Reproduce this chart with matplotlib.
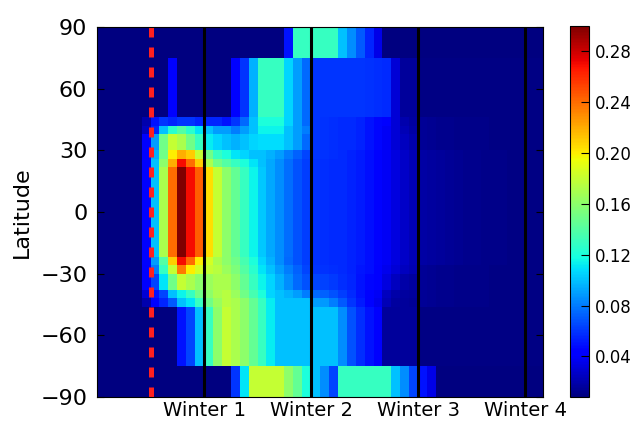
import numpy as np
import matplotlib
matplotlib.use("Agg")
import matplotlib.pyplot as plt

# grid: monthly columns, latitude bands (4 deg in the tropics, wide at high latitudes)
month_edges = np.arange(0, 51)
lat_edges = [-90, -75, -46, -42, -38, -34, -30, -26, -22, -18, -14, -10, -6, -2,
             2, 6, 10, 14, 18, 22, 26, 30, 34, 38, 42, 46, 75, 90]

winter_months = [12, 24, 36, 48]
winter_labels = ["Winter 1", "Winter 2", "Winter 3", "Winter 4"]
release_month = 6

tail_core = [0.018, 0.016, 0.015, 0.014, 0.013, 0.012, 0.012, 0.011, 0.011, 0.011, 0.010, 0.010, 0.010, 0.010]
tail_mid = [0.014, 0.013, 0.012, 0.012, 0.011, 0.011, 0.011, 0.011, 0.010, 0.010, 0.010, 0.010, 0.010, 0.010]

# one list per latitude band, south to north, 50 months each
band_90s_75s = [0.008] * 15 + [0.06, 0.11, 0.18, 0.18, 0.18, 0.18, 0.16, 0.145, 0.12, 0.10, 0.085, 0.065,
                               0.13, 0.13, 0.13, 0.13, 0.13, 0.13, 0.10, 0.085, 0.065, 0.05, 0.035] + [0.009] * 12
band_75s_46s = [0.008] * 9 + [0.05, 0.065, 0.10, 0.13, 0.16, 0.18, 0.17, 0.16, 0.145, 0.13, 0.112,
                              0.10, 0.10, 0.10, 0.10, 0.10, 0.10, 0.10, 0.085, 0.068, 0.058, 0.05, 0.04,
                              0.015, 0.015, 0.015, 0.015] + [0.01] * 14
band_46s_42s = [0.008] * 5 + [0.02, 0.045, 0.055, 0.07, 0.10, 0.11, 0.13, 0.15, 0.165, 0.175, 0.17, 0.16,
                              0.145, 0.13, 0.112, 0.10, 0.10, 0.10, 0.10, 0.09, 0.088, 0.08, 0.07, 0.06,
                              0.052, 0.045, 0.036, 0.022, 0.017, 0.015, 0.014] + tail_mid
band_42s_38s = [0.008] * 5 + [0.03, 0.05, 0.065, 0.10, 0.115, 0.13, 0.15, 0.16, 0.17, 0.175, 0.165, 0.15,
                              0.135, 0.12, 0.105, 0.10, 0.095, 0.09, 0.08, 0.075, 0.072, 0.068, 0.062, 0.057,
                              0.05, 0.045, 0.038, 0.025, 0.019, 0.016, 0.015] + tail_mid
band_38s_30s = [0.008] * 5 + [0.04, 0.065, 0.11, 0.15, 0.18, 0.17, 0.16, 0.165, 0.17, 0.17, 0.16, 0.145,
                              0.13, 0.115, 0.105, 0.095, 0.085, 0.075, 0.068, 0.065, 0.063, 0.061, 0.058, 0.055,
                              0.05, 0.046, 0.04, 0.032, 0.024, 0.019, 0.017] + tail_mid
band_30s_26s = [0.008] * 5 + [0.04, 0.08, 0.13, 0.18, 0.235, 0.20, 0.185, 0.18, 0.175, 0.165, 0.155, 0.14,
                              0.125, 0.11, 0.10, 0.09, 0.08, 0.072, 0.065, 0.06, 0.059, 0.058, 0.056, 0.054,
                              0.051, 0.048, 0.044, 0.036, 0.03, 0.025, 0.021] + tail_mid
band_26s_22s = [0.008] * 5 + [0.045, 0.09, 0.14, 0.21, 0.27, 0.24, 0.20, 0.185, 0.17, 0.16, 0.15, 0.135,
                              0.12, 0.105, 0.095, 0.085, 0.075, 0.068, 0.062, 0.059, 0.058, 0.057, 0.056, 0.054,
                              0.052, 0.049, 0.045, 0.038, 0.032, 0.027, 0.022] + tail_core
band_core = [0.008] * 5 + [0.045, 0.10, 0.17, 0.24, 0.30, 0.27, 0.245, 0.205, 0.18, 0.16, 0.145, 0.13,
                           0.115, 0.102, 0.093, 0.085, 0.076, 0.068, 0.062, 0.059, 0.058, 0.057, 0.056, 0.054,
                           0.052, 0.049, 0.045, 0.038, 0.032, 0.027, 0.022] + tail_core
band_22n_26n = [0.008] * 5 + [0.045, 0.10, 0.16, 0.22, 0.27, 0.24, 0.21, 0.17, 0.15, 0.14, 0.13, 0.12,
                              0.11, 0.10, 0.093, 0.085, 0.076, 0.068, 0.062, 0.059, 0.058, 0.057, 0.056, 0.054,
                              0.052, 0.049, 0.045, 0.038, 0.032, 0.027, 0.022] + tail_core
band_26n_30n = [0.008] * 5 + [0.04, 0.095, 0.15, 0.20, 0.22, 0.21, 0.18, 0.15, 0.13, 0.12, 0.11, 0.105,
                              0.10, 0.10, 0.095, 0.09, 0.08, 0.072, 0.065, 0.06, 0.059, 0.058, 0.056, 0.054,
                              0.052, 0.049, 0.045, 0.038, 0.032, 0.027, 0.022] + tail_core
band_30n_38n = [0.008] * 5 + [0.042, 0.09, 0.15, 0.18, 0.17, 0.15, 0.13, 0.112, 0.105, 0.10, 0.095, 0.10,
                              0.105, 0.108, 0.108, 0.108, 0.10, 0.09, 0.075, 0.06, 0.059, 0.058, 0.057, 0.056,
                              0.054, 0.05, 0.046, 0.038, 0.03, 0.025, 0.02] + tail_mid
band_38n_42n = [0.008] * 5 + [0.025, 0.055, 0.10, 0.125, 0.14, 0.125, 0.11, 0.10, 0.09, 0.09, 0.08, 0.09,
                              0.10, 0.115, 0.115, 0.115, 0.10, 0.09, 0.08, 0.06, 0.059, 0.058, 0.057, 0.056,
                              0.054, 0.05, 0.046, 0.038, 0.03, 0.022, 0.018] + tail_mid
band_42n_46n = [0.008] * 5 + [0.02, 0.05, 0.06, 0.055, 0.06, 0.06, 0.055, 0.055, 0.055, 0.05, 0.06, 0.075,
                              0.10, 0.12, 0.12, 0.12, 0.105, 0.09, 0.075, 0.06, 0.059, 0.058, 0.057, 0.056,
                              0.054, 0.05, 0.046, 0.04, 0.03, 0.02, 0.016] + tail_mid
band_46n_75n = [0.008] * 8 + [0.045] + [0.008] * 6 + [0.045, 0.06, 0.095, 0.13, 0.13, 0.13, 0.105, 0.09,
                                                       0.075, 0.06, 0.06, 0.06, 0.06, 0.06, 0.06, 0.059,
                                                       0.058, 0.057, 0.03, 0.015, 0.015] + [0.01] * 14
band_75n_90n = [0.008] * 21 + [0.05, 0.13, 0.13, 0.13, 0.13, 0.13, 0.10, 0.085, 0.07, 0.055, 0.035] + [0.009] * 18

rows = ([band_90s_75s, band_75s_46s, band_46s_42s, band_42s_38s, band_38s_30s, band_38s_30s,
         band_30s_26s, band_26s_22s] + [band_core] * 11 +
        [band_22n_26n, band_26n_30n, band_30n_38n, band_30n_38n, band_38n_42n, band_42n_46n,
         band_46n_75n, band_75n_90n])
data = np.array(rows)

fig = plt.figure(figsize=(6.33, 4.21), dpi=100)
ax = fig.add_axes([97 / 633, 24 / 421, 446 / 633, 370 / 421])
cax = fig.add_axes([570 / 633, 24 / 421, 19 / 633, 371 / 421])

mesh = ax.pcolormesh(month_edges, lat_edges, data, cmap="jet",
                     vmin=data.min(), vmax=data.max())

for m in winter_months:
    ax.axvline(m, color="black", lw=2.2)
ax.axvline(release_month, color="#ff2020", lw=3.6, linestyle=(0, (2, 2)))

ax.set_xlim(month_edges[0], month_edges[-1])
ax.set_ylim(-90, 90)
ax.set_yticks(range(-90, 91, 30))
ax.set_xticks(winter_months)
ax.set_xticklabels(winter_labels, fontsize=14)
ax.tick_params(axis="x", length=0, pad=3)
ax.tick_params(axis="y", direction="in", length=5, right=True, labelsize=16, pad=7)
ax.set_ylabel("Latitude", fontsize=16, labelpad=6)

cb = fig.colorbar(mesh, cax=cax, ticks=[0.04, 0.08, 0.12, 0.16, 0.20, 0.24, 0.28])
cb.ax.set_yticklabels(["0.04", "0.08", "0.12", "0.16", "0.20", "0.24", "0.28"])
cb.ax.tick_params(direction="in", length=6, labelsize=12, pad=4)

fig.savefig("out.png", dpi=100)
